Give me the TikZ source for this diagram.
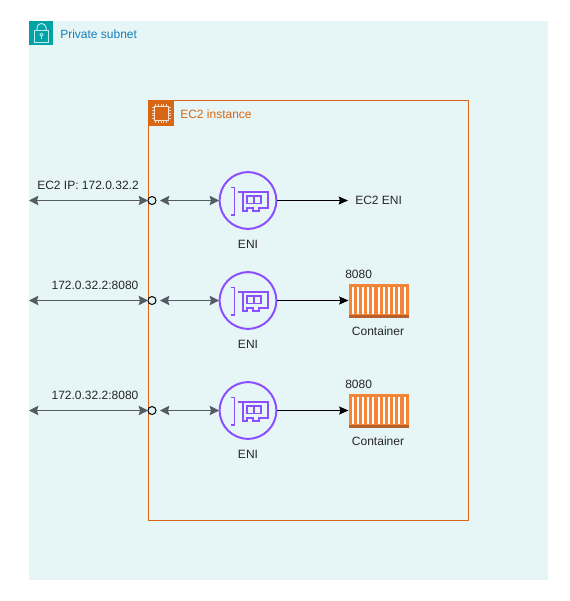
\documentclass[tikz,border=0pt]{standalone}
\usepackage{fontspec}
\setmainfont{Liberation Sans}
\usetikzlibrary{arrows.meta, positioning}

\definecolor{subnetbg}{HTML}{E6F6F7}
\definecolor{subnetgreen}{HTML}{00A4A6}
\definecolor{subnetblue}{HTML}{147EBA}
\definecolor{ectwo}{HTML}{D86613}
\definecolor{eniline}{HTML}{8C4FFF}
\definecolor{linkgray}{HTML}{545B64}
\definecolor{boxorange}{HTML}{F58536}
\definecolor{boxdark}{HTML}{B8602A}

\begin{document}
\begin{tikzpicture}[x=0.75pt, y=-0.75pt, font=\fontsize{9}{11}\selectfont,
  caption/.style={text=black!85, inner sep=0pt},
  port/.style={circle, draw=black, fill=subnetbg, line width=0.75pt, minimum size=6pt, inner sep=0pt, outer sep=0pt},
  eni/.style={circle, draw=eniline, line width=1.5pt, minimum size=42.5pt, inner sep=0pt, outer sep=0.5pt},
  box/.style={fill=boxorange, minimum width=45pt, minimum height=25.5pt, inner sep=0pt, outer sep=0pt},
  link/.style={draw=linkgray, line width=0.75pt, {Stealth[length=7pt,width=7pt,inset=1pt]}-{Stealth[length=7pt,width=7pt,inset=1pt]}},
  outlink/.style={draw=black, line width=0.75pt, -{Stealth[length=7pt,width=6pt,inset=1pt]}},
  card/.pic={
    \draw[eniline, line width=1.2pt] (-17,-13) -- (-13.5,-13) -- (-13.5,14.5) -- (-17,14.5);
    \draw[eniline, line width=1.2pt] (-10,-8.5) -- (20,-8.5) -- (20,7.5) -- (11,7.5) -- (11,10.5) -- (5,10.5) -- (5,7.5) -- (-1,7.5) -- (-1,10.5) -- (-5,10.5) -- (-5,-8.5);
    \draw[eniline, line width=1.2pt] (-1,-4.5) rectangle (13,3) (6,-4.5) -- (6,3);
  },
  stripes/.pic={
    \fill[boxdark] (-30,14) rectangle (30,17);
    \foreach \x in {0,...,10} {
      \fill[white] ({-26+5.2*\x-1},-14) rectangle ({-26+5.2*\x+1},13);
    }
  }]
  \useasboundingbox (0,0) rectangle (569,601);

  % subnet and instance
  \fill[subnetbg] (29,21) rectangle (548,580);
  \fill[subnetgreen] (29,21) rectangle (53,45);
  \draw[white!75!subnetgreen, line width=0.75pt] (34.5,30.5) rectangle (48.5,42);
  \draw[white!75!subnetgreen, line width=0.75pt] (37,30.5) -- (37,27.5) arc[start angle=180, end angle=360, x radius=4.5, y radius=4] -- (46,30.5);
  \draw[white!75!subnetgreen, line width=0.6pt] (41.5,34.7) circle (1.6) (41.5,36.3) -- (41.5,39);
  \node[anchor=west, text=subnetblue, inner sep=0pt] (subnet) at (60,34) {Private subnet};

  \draw[ectwo, line width=0.75pt] (148.5,100.5) rectangle (468.5,520.5);
  \fill[ectwo] (148,100) rectangle (174,126);
  \draw[white!85!ectwo, line width=0.75pt] (154,106) rectangle (168,120);
  \foreach \t in {0,...,4} {
    \draw[white!75!ectwo, line width=0.4pt] ({155.5+\t*2.75},103.5) -- ({155.5+\t*2.75},106) ({155.5+\t*2.75},120) -- ({155.5+\t*2.75},122.5);
    \draw[white!75!ectwo, line width=0.4pt] (151.5,{107.5+\t*2.75}) -- (154,{107.5+\t*2.75}) (168,{107.5+\t*2.75}) -- (170.5,{107.5+\t*2.75});
  }
  \node[anchor=west, text=ectwo, inner sep=0pt] (instance) at (180,114) {EC2 instance};

  % free ends on the left
  \coordinate (inA) at (29,200.5);
  \coordinate (inB) at (29,300.5);
  \coordinate (inC) at (29,410.5);
  \coordinate (endA) at (348,200.5);

  \node[port] (portA) at (152,200.5) {};
  \node[port] (portB) at (152,300.5) {};
  \node[port] (portC) at (152,410.5) {};

  \node[eni] (eniA) at (248,200.5) {};
  \node[eni] (eniB) at (248,300.5) {};
  \node[eni] (eniC) at (248,410.5) {};
  \pic at (eniA) {card};
  \pic at (eniB) {card};
  \pic at (eniC) {card};

  \node[box] (boxB) at (378.5,300.5) {};
  \node[box] (boxC) at (378.5,410.5) {};
  \pic at (boxB) {stripes};
  \pic at (boxC) {stripes};

  \node[caption, anchor=west] (ec2eni) at (355,200) {EC2 ENI};

  \draw[link] (inA) -- (portA);
  \draw[link] (inB) -- (portB);
  \draw[link] (inC) -- (portC);
  \draw[link, shorten <=3pt] (portA) -- (eniA);
  \draw[link, shorten <=3pt] (portB) -- (eniB);
  \draw[link, shorten <=3pt] (portC) -- (eniC);
  \draw[outlink] (eniA) -- (endA);
  \draw[outlink] (eniB) -- (boxB);
  \draw[outlink] (eniC) -- (boxC);

  \node[caption] (ipA) at (88,185) {EC2 IP: 172.0.32.2};
  \node[caption] (ipB) at (95,285) {172.0.32.2:8080};
  \node[caption] (ipC) at (95,395) {172.0.32.2:8080};
  \node[caption] (nameA) at (248,244) {ENI};
  \node[caption] (nameB) at (248,344) {ENI};
  \node[caption] (nameC) at (248,454) {ENI};
  \node[caption, anchor=west] (portnumB) at (345,274) {8080};
  \node[caption, anchor=west] (portnumC) at (345,384) {8080};
  \node[caption] (boxnameB) at (378,331) {Container};
  \node[caption] (boxnameC) at (378,441) {Container};
\end{tikzpicture}
\end{document}
